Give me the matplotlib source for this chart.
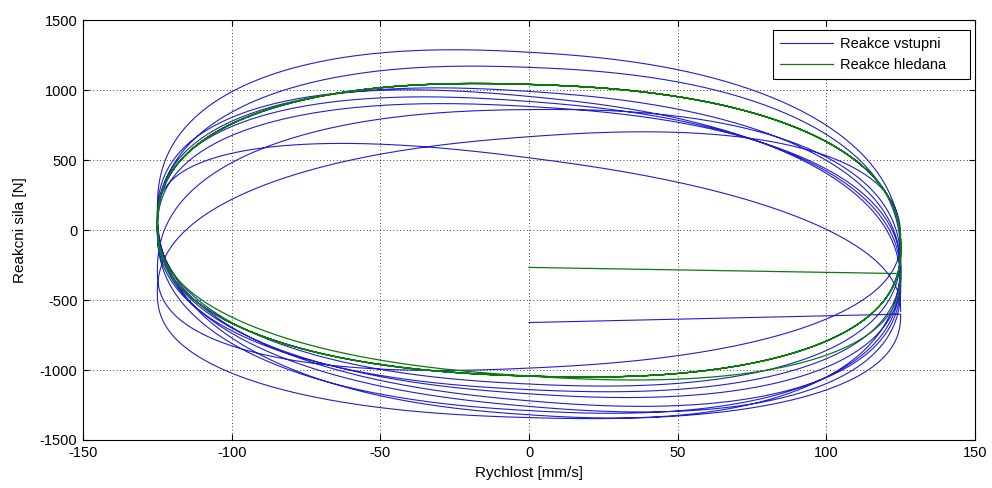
import numpy as np
import matplotlib
matplotlib.use("Agg")
import matplotlib.pyplot as plt

plt.rcParams['font.family'] = ['Liberation Sans', 'DejaVu Sans']
plt.rcParams['axes.unicode_minus'] = False

# ---- data ----
vel_amp = 125.0            # velocity amplitude [mm/s]
shape_exp = 0.85           # boxiness of the loops

# blue (Reakce vstupni): first sample, then half-cycles
blue_start_x = [0.0]
blue_start_y = [-660.0]
# force where each half-cycle meets the velocity extreme (right, left, right, ...)
blue_edges = [-600, -450, -60, -300, -250, 0, -300, 50, -350, 100,
              -400, 50, -300, 0, -200, 150, -150, 100, -580]
# force at zero velocity on each half-cycle (bottom, top, bottom, ...)
blue_mids = [-1340, 669, -986, 863, -1140, 885, -1170, 921, -1220, 957,
             -1260, 993, -1290, 1165, -1320, 1273, -1100, 518]

# green (Reakce hledana)
green_start_x = [0.0]
green_start_y = [-266.0]
green_edges = [-310, 30, -130, 30, -130, 30, -130, 30, -130, 30, -130]
green_mids = [-1043, 1043, -1043, 1043, -1043, 1043, -1043, 1043, -1043, 1043]

x_ticks = [-150, -100, -50, 0, 50, 100, 150]
y_ticks = [-1500, -1000, -500, 0, 500, 1000, 1500]


def build_path(sx, sy, edges, mids, n=240):
    xs = list(sx)
    ys = list(sy)
    th = np.linspace(0, np.pi, n)
    u = np.cos(th)
    U = np.sign(u) * np.abs(u) ** shape_exp
    V = np.abs(np.sin(th)) ** shape_exp
    for k, m in enumerate(mids):
        e0, e1 = edges[k], edges[k + 1]
        P = m - (e0 + e1) / 2.0
        y = e0 * (1 + U) / 2 + e1 * (1 - U) / 2 + P * V
        direction = 1 if k % 2 == 0 else -1   # bottom arcs right->left, top arcs left->right
        x = direction * vel_amp * U
        xs.extend(x.tolist())
        ys.extend(y.tolist())
    return np.array(xs), np.array(ys)


bx, by = build_path(blue_start_x, blue_start_y, blue_edges, blue_mids)
gx, gy = build_path(green_start_x, green_start_y, green_edges, green_mids)

fig = plt.figure(figsize=(9.92, 4.88), dpi=100)
ax = fig.add_axes([0.0837, 0.0984, 0.8992, 0.8596])

ax.plot(bx, by, color='#2020d0', lw=0.8, label='Reakce vstupni')
ax.plot(gx, gy, color='#0a7a0a', lw=0.9, label='Reakce hledana')

ax.set_xlim(-150, 150)
ax.set_ylim(-1500, 1500)
ax.set_xticks(x_ticks)
ax.set_yticks(y_ticks)
ax.grid(True, color='black', linestyle=(0, (1, 3)), linewidth=0.6)
ax.tick_params(direction='in', length=4, top=True, right=True,
               labelsize=10.5, colors='black', pad=4)
for s in ax.spines.values():
    s.set_linewidth(0.8)
    s.set_color('black')

ax.set_xlabel('Rychlost [mm/s]', fontsize=11, labelpad=5)
ax.set_ylabel('Reakcni sila [N]', fontsize=11, labelpad=9)

leg = ax.legend(loc='upper right', bbox_to_anchor=(0.9944, 0.977),
                fontsize=10.5, fancybox=False, borderaxespad=0,
                edgecolor='black', framealpha=1, handlelength=3.6,
                labelspacing=0.45, borderpad=0.5, handletextpad=0.5)
leg.get_frame().set_linewidth(0.8)
for t in leg.get_texts():
    t.set_text(t.get_text() + '    ')

fig.savefig('out.png', dpi=100, facecolor='white')
